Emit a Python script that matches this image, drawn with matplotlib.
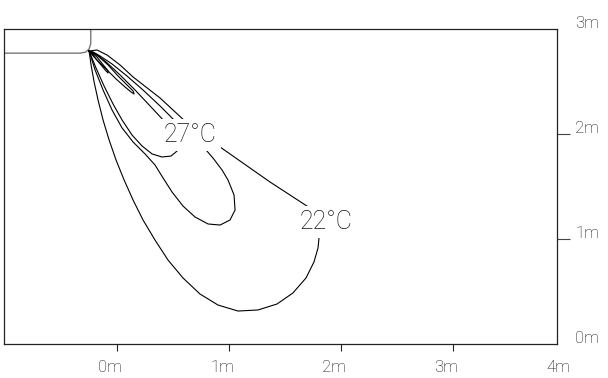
import matplotlib.pyplot as plt

# Isotherm contours (metres), each closed back at the outlet
iso_22_x = [-0.250, -0.232, -0.205, -0.170, -0.125, -0.071, -0.009, 0.063, 0.143, 0.232,
            0.339, 0.455, 0.589, 0.741, 0.902, 1.080, 1.259, 1.429, 1.571, 1.688,
            1.759, 1.795, 1.804, 1.786, 1.723, 1.545, 1.366, 1.188, 1.009, 0.830,
            0.625, 0.384, 0.143, 0.027, -0.089, -0.179, -0.250]
iso_22_y = [2.790, 2.657, 2.495, 2.324, 2.133, 1.943, 1.752, 1.562, 1.371, 1.181,
            0.990, 0.800, 0.629, 0.476, 0.371, 0.314, 0.324, 0.381, 0.486, 0.629,
            0.781, 0.914, 1.010, 1.162, 1.295, 1.419, 1.543, 1.676, 1.810, 1.943,
            2.105, 2.343, 2.543, 2.657, 2.752, 2.800, 2.790]

iso_mid_x = [-0.250, -0.196, -0.125, -0.045, 0.045, 0.143, 0.250, 0.339, 0.411, 0.491,
             0.589, 0.696, 0.813, 0.920, 1.009, 1.054, 1.045, 0.991, 0.938, 0.857,
             0.741, 0.527, 0.384, 0.232, 0.089, -0.045, -0.152, -0.214, -0.250]
iso_mid_y = [2.790, 2.610, 2.419, 2.229, 2.057, 1.924, 1.810, 1.705, 1.581, 1.448,
             1.314, 1.210, 1.143, 1.133, 1.181, 1.276, 1.419, 1.562, 1.657, 1.771,
             1.914, 2.114, 2.267, 2.419, 2.552, 2.667, 2.743, 2.781, 2.790]

iso_27_x = [-0.250, -0.188, -0.116, -0.036, 0.045, 0.134, 0.223, 0.313, 0.402, 0.482,
            0.536, 0.563, 0.429, 0.295, 0.161, 0.027, -0.098, -0.188, -0.250]
iso_27_y = [2.790, 2.629, 2.457, 2.286, 2.133, 1.990, 1.886, 1.810, 1.781, 1.790,
            1.838, 1.914, 2.114, 2.267, 2.419, 2.562, 2.686, 2.762, 2.790]

iso_hi_x = [-0.250, -0.179, -0.098, -0.009, 0.071, 0.125, 0.152, 0.143, 0.089, 0.009,
            -0.080, -0.170, -0.250]
iso_hi_y = [2.790, 2.705, 2.619, 2.524, 2.448, 2.400, 2.381, 2.410, 2.467, 2.552,
            2.657, 2.743, 2.790]

iso_top_x = [-0.250, -0.196, -0.143, -0.098, -0.080, -0.080, -0.116, -0.179, -0.250]
iso_top_y = [2.790, 2.724, 2.657, 2.600, 2.581, 2.600, 2.648, 2.733, 2.790]

# Ceiling / wall outline near the outlet
wall_x = [-1.01, -0.33, -0.28, -0.25, -0.235, -0.235]
wall_y = [2.77, 2.77, 2.78, 2.81, 2.86, 3.0]

label_22 = ('22°C', 1.87, 1.16)
label_27 = ('27°C', 0.65, 1.99)

x_ticks = [0, 1, 2, 3]
x_labels = ['0m', '1m', '2m', '3m', '4m']
y_ticks = [1, 2]
y_labels = ['0m', '1m', '2m', '3m']

plt.rcParams['font.family'] = ['Roboto', 'DejaVu Sans']
plt.rcParams['font.weight'] = 'light'

fig = plt.figure(figsize=(6.08, 3.78), dpi=100)
W, H = 608, 378
ax = fig.add_axes([4 / W, (H - 344) / H, (557 - 4) / W, (344 - 29) / H])
ax.set_xlim(-1.01, 3.93)
ax.set_ylim(0, 3)

for s in ax.spines.values():
    s.set_linewidth(0.9)
    s.set_color('#222222')

ax.plot(wall_x, wall_y, color='#777777', lw=1.0)
for xs, ys in [(iso_22_x, iso_22_y), (iso_mid_x, iso_mid_y), (iso_27_x, iso_27_y),
               (iso_hi_x, iso_hi_y), (iso_top_x, iso_top_y)]:
    ax.plot(xs, ys, color='black', lw=0.8)

for txt, lx, ly in (label_22, label_27):
    ax.text(lx, ly, txt, ha='center', va='center', fontsize=18, color='#111111',
            bbox=dict(facecolor='white', edgecolor='none', pad=3), zorder=5)

# x axis: ticks below the frame
ax.set_xticks(x_ticks)
ax.set_xticklabels([])
ax.tick_params(axis='x', direction='out', length=5, width=0.8, color='#222222')
for i, lab in enumerate(x_labels):
    ax.annotate(lab, xy=(i, 0), xycoords=('data', 'axes fraction'),
                xytext=(-5, -17), textcoords='offset points',
                ha='center', va='center', fontsize=12, color='#111111',
                annotation_clip=False)

# y axis: ticks and labels on the right
ax.yaxis.tick_right()
ax.set_yticks(y_ticks)
ax.set_yticklabels([])
ax.tick_params(axis='y', direction='out', length=9, width=0.8, color='#444444')
for i, lab in enumerate(y_labels):
    ax.annotate(lab, xy=(1, i / 3), xycoords='axes fraction',
                xytext=(13, 4), textcoords='offset points',
                ha='left', va='center', fontsize=12, color='#111111',
                annotation_clip=False)

fig.savefig('out.png', dpi=100)
